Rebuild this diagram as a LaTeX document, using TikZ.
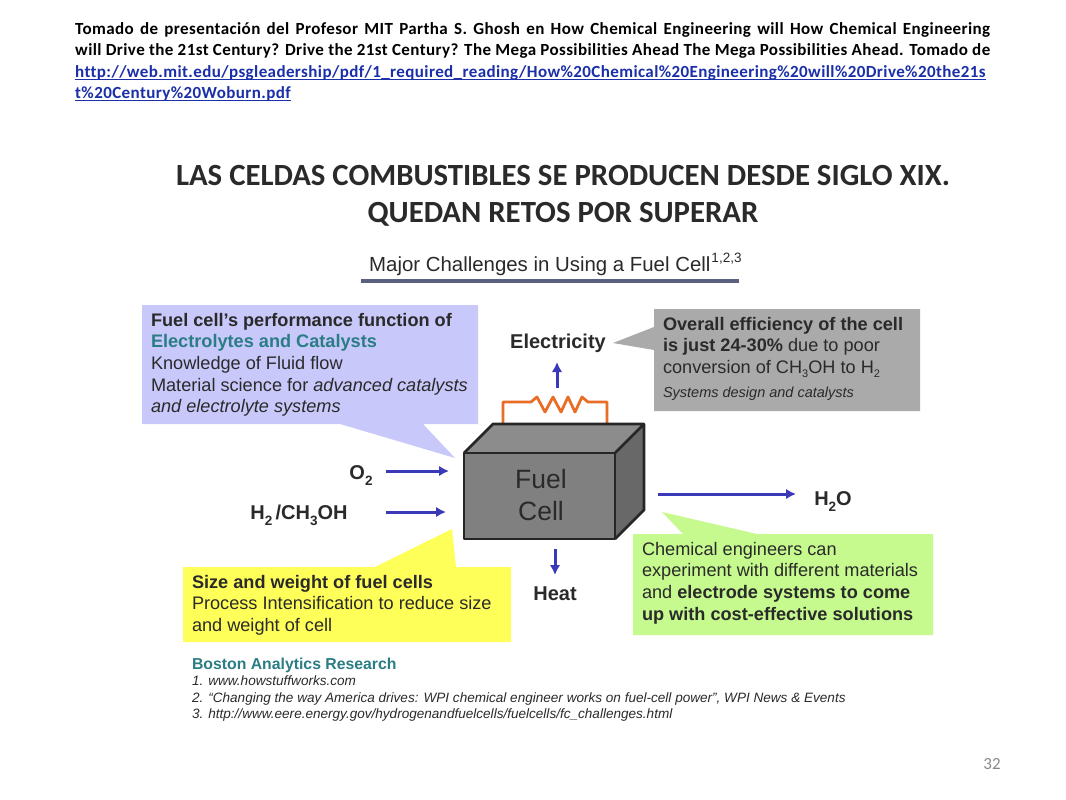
\documentclass[tikz,border=0pt]{standalone}
\usepackage{fontspec}
\setmainfont{Liberation Sans}
\newfontfamily\calib{Carlito}
\newfontfamily\calibh[LetterSpace=2.35,Ligatures=NoCommon]{Carlito}
\usetikzlibrary{arrows.meta}
\definecolor{inkc}{HTML}{2A2A2A}
\definecolor{flowc}{HTML}{3A3AB8}
\definecolor{linkc}{HTML}{1A2FA8}
\definecolor{tealc}{HTML}{2A7D85}
\newcommand{\lsub}[1]{\raisebox{-0.22em}{\fontsize{11}{12}\selectfont #1}}
\newcommand{\bsub}[1]{\raisebox{-0.34em}{\fontsize{13.5}{12}\selectfont\bfseries #1}}
\newcommand{\linkline}[1]{\textcolor{linkc}{\underline{\smash{#1}}}}
\tikzset{
  x=1pt,y=-1pt,
  inktxt/.style={inner sep=0pt,outer sep=0pt,text=inkc,anchor=north west,align=left},
  flow/.style={draw=flowc,line width=3pt,-{Latex[length=10pt,width=10.5pt]}},
  lbl/.style={inner sep=0pt,outer sep=0pt,text=inkc,anchor=base,font=\bfseries\fontsize{20}{22}\selectfont},
  body18/.style={font=\fontsize{18.15}{21.7}\selectfont},
}
\begin{document}
\begin{tikzpicture}
\useasboundingbox (0,0) rectangle (1066,800);
\fill[white] (0,0) rectangle (1066,800);
% header
\node[inner sep=0pt,anchor=north west,align=left,text=black,font=\calibh\bfseries\fontsize{17}{21.6}\selectfont] (head) at (75,22) {
\hbox to 915pt{Tomado de presentación del Profesor MIT Partha S. Ghosh en How Chemical Engineering will How Chemical Engineering}\\
\hbox to 915pt{will Drive the 21st Century? Drive the 21st Century? The Mega Possibilities Ahead The Mega Possibilities Ahead. Tomado de}\\
\linkline{http://web.mit.edu/psgleadership/pdf/1\_required\_reading/How\%20Chemical\%20Engineering\%20will\%20Drive\%20the21s}\\
\linkline{t\%20Century\%20Woburn.pdf}};
\node[inner sep=0pt,anchor=north,text=inkc,align=center,font=\calib\bfseries\fontsize{30.8}{37}\selectfont] (title) at (563,165) {LAS CELDAS COMBUSTIBLES SE PRODUCEN DESDE SIGLO XIX.\\QUEDAN RETOS POR SUPERAR};
\node[inner sep=0pt,anchor=base west,text=inkc,font=\fontsize{20.4}{22}\selectfont] (major) at (369,271) {Major Challenges in Using a Fuel Cell\kern1pt\raisebox{0.42em}{\fontsize{13.5}{14}\selectfont 1,2,3}};
\draw[line width=3.5pt,color={rgb,255:red,90;green,96;blue,128}] (361,281) -- (739,281);
% callouts
\fill[color={rgb,255:red,200;green,200;blue,250}] (142,305) -- (478,305) -- (478,424) -- (423,424) -- (455,458) -- (340,424) -- (142,424) -- cycle;
\fill[color={rgb,255:red,170;green,170;blue,170}] (654,309) -- (920,309) -- (920,411) -- (654,411) -- (654,350) -- (613,343) -- (654,327) -- cycle;
\fill[color={rgb,255:red,198;green,250;blue,142}] (633,534) -- (683,534) -- (662,512) -- (757,534) -- (933,534) -- (933,635) -- (633,635) -- cycle;
\fill[color={rgb,255:red,255;green,255;blue,90}] (183,567) -- (375,567) -- (452,529) -- (456,567) -- (511,567) -- (511,642) -- (183,642) -- cycle;
\node[inktxt,body18] (bluetxt) at (151,313) {\textbf{Fuel cell’s performance function of}\\\textcolor{tealc}{\textbf{Electrolytes and Catalysts}}\\Knowledge of Fluid flow\\Material science for \textit{advanced catalysts}\\\textit{and electrolyte systems}};
\node[inktxt,body18] (graytxt) at (663,317) {\textbf{Overall efficiency of the cell}\\\textbf{is just 24-30\%} due to poor\\conversion of CH\lsub{3}OH to H\lsub{2}};
\node[inktxt,font=\fontsize{14.5}{16}\selectfont] (graysub) at (663,387) {\textit{Systems design and catalysts}};
\node[inktxt,body18] (greentxt) at (642,542) {Chemical engineers can\\experiment with different materials\\and \textbf{electrode systems to come}\\\textbf{up with cost-effective solutions}};
\node[inktxt,body18] (yellowtxt) at (192,575) {\textbf{Size and weight of fuel cells}\\Process Intensification to reduce size\\and weight of cell};
% resistor
\coordinate (rl) at (503,424);
\coordinate (rr) at (607,424);
\draw[color={rgb,255:red,232;green,110;blue,40},line width=2.8pt,line join=round] (rl) -- (503,402) -- (531,402) -- (537,397) -- (545,412) -- (553,397) -- (561,412) -- (568,397) -- (575,412) -- (582,397) -- (588,402) -- (607,402) -- (rr);
% box
\fill[color={rgb,255:red,140;green,140;blue,140}] (464,453) -- (493,424) -- (644,424) -- (615,453) -- cycle;
\fill[color={rgb,255:red,104;green,104;blue,104}] (615,453) -- (644,424) -- (644,510) -- (615,539) -- cycle;
\draw[black!85,line width=2.8pt,line join=round,fill={rgb,255:red,128;green,128;blue,128}] (464,453) rectangle (615,539);
\draw[black!85,line width=2.8pt,line join=round] (464,453) -- (493,424) -- (644,424) -- (644,510) -- (615,539) (615,453) -- (644,424);
\node[inner sep=0pt,text=inkc,align=center,anchor=center,font=\fontsize{26.5}{32}\selectfont] (fuel) at (541,495.5) {Fuel\\Cell};
% labels
\node[lbl] (elec) at (558,348) {Electricity};
\node[lbl] (heat) at (555,600) {Heat};
\node[lbl] (water) at (833,505) {H\bsub{2}O};
\node[lbl] (oxy) at (361,479) {O\bsub{2}};
\node[lbl] (hyd) at (299,519) {H\bsub{2}\,/CH\bsub{3}OH};
% arrows
\coordinate (a1) at (557,388); \coordinate (a2) at (557,362);
\coordinate (b1) at (555,549); \coordinate (b2) at (555,575);
\coordinate (c1) at (658,494); \coordinate (c2) at (796,494);
\coordinate (d1) at (386,471); \coordinate (d2) at (449,471);
\coordinate (e1) at (386,512); \coordinate (e2) at (446,512);
\draw[flow] (a1) -- (a2);
\draw[flow] (b1) -- (b2);
\draw[flow] (c1) -- (c2);
\draw[flow] (d1) -- (d2);
\draw[flow] (e1) -- (e2);
% refs
\node[inktxt,text=tealc,font=\bfseries\fontsize{15.8}{18}\selectfont] (boston) at (192,658) {Boston Analytics Research};
\node[inktxt,font=\itshape\fontsize{13.56}{16.5}\selectfont] (refs) at (192,676) {1. www.howstuffworks.com\\2. “Changing the way America drives: WPI chemical engineer works on fuel-cell power”, WPI News \& Events\\3. http://www.eere.energy.gov/hydrogenandfuelcells/fuelcells/fc\_challenges.html};
\node[inner sep=0pt,anchor=base,text={rgb,255:red,137;green,137;blue,137},font=\calib\fontsize{17}{18}\selectfont] (num) at (992,769) {32};
\end{tikzpicture}
\end{document}
